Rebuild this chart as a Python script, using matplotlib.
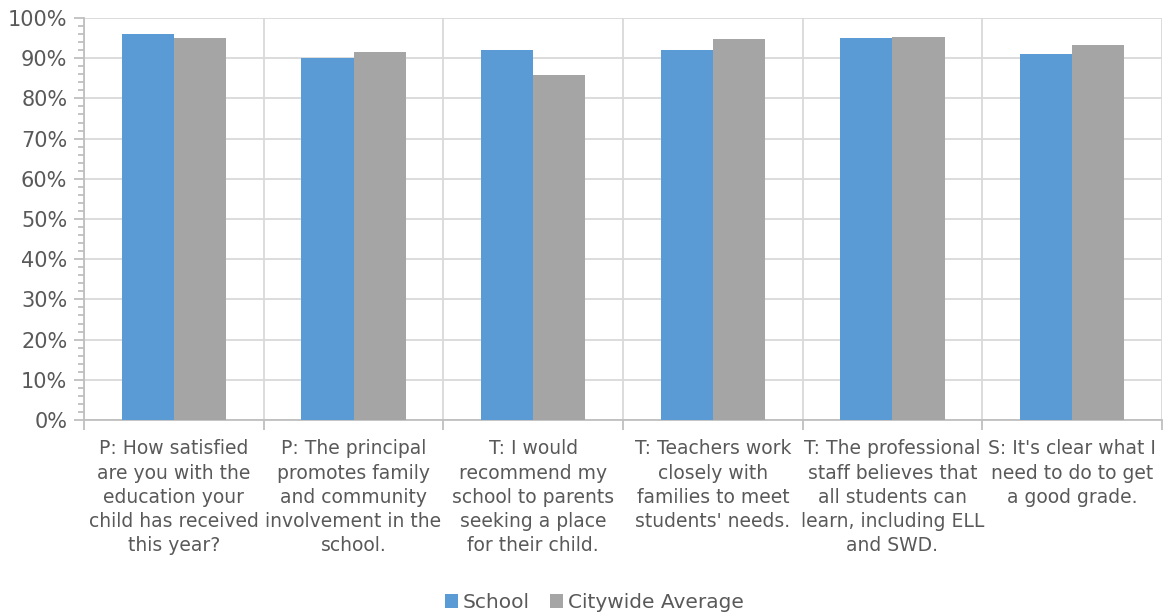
import matplotlib
matplotlib.use("Agg")
import matplotlib.pyplot as plt
from matplotlib.ticker import MultipleLocator, FuncFormatter
import numpy as np

categories = [
    "P: How satisfied\nare you with the\neducation your\nchild has received\nthis year?",
    "P: The principal\npromotes family\nand community\ninvolvement in the\nschool.",
    "T: I would\nrecommend my\nschool to parents\nseeking a place\nfor their child.",
    "T: Teachers work\nclosely with\nfamilies to meet\nstudents' needs.",
    "T: The professional\nstaff believes that\nall students can\nlearn, including ELL\nand SWD.",
    "S: It's clear what I\nneed to do to get\na good grade.",
]
school = [96.0, 90.0, 92.0, 92.0, 95.0, 91.1]
citywide = [95.0, 91.5, 85.9, 94.8, 95.3, 93.4]

blue = "#5B9BD5"
gray = "#A5A5A5"
text_col = "#595959"
grid_col = "#D9D9D9"
axis_col = "#BFBFBF"

plt.rcParams['font.family'] = ['DejaVu Sans']

fig = plt.figure(figsize=(11.63, 6.15), dpi=100)
ax = fig.add_axes([84/1163, (615-420)/615, (1162-84)/1163, (420-18)/615])

x = np.arange(len(categories))
w = 0.29
ax.bar(x - w/2, school, w, color=blue, label="School", zorder=3)
ax.bar(x + w/2, citywide, w, color=gray, label="Citywide Average", zorder=3)

ax.set_xlim(-0.5, len(categories) - 0.5)
ax.set_ylim(0, 100)

ax.yaxis.set_major_locator(MultipleLocator(10))
ax.yaxis.set_minor_locator(MultipleLocator(2))
ax.yaxis.set_major_formatter(FuncFormatter(lambda v, p: f"{v:.0f}%"))
ax.grid(axis='y', which='major', color=grid_col, lw=1.3, zorder=0)

ax.set_xticks(x)
ax.set_xticklabels(categories, linespacing=1.35)
ax.set_xticks(np.arange(len(categories) + 1) - 0.5, minor=True)
ax.grid(axis='x', which='minor', color=grid_col, lw=1.3, zorder=0)
ax.tick_params(axis='x', which='major', length=0, pad=14, labelsize=13.5, labelcolor=text_col)
ax.tick_params(axis='x', which='minor', length=7, color=axis_col, width=1.3)
ax.tick_params(axis='y', which='major', length=7, color=axis_col, width=1.3,
               labelsize=15, labelcolor=text_col, pad=5)
ax.tick_params(axis='y', which='minor', length=4, color=axis_col, width=1.3)

for s in ['top', 'right']:
    ax.spines[s].set_visible(False)
for s in ['left', 'bottom']:
    ax.spines[s].set_color(axis_col)
    ax.spines[s].set_linewidth(1.3)

fig.legend(loc='lower center', bbox_to_anchor=(0.511, -0.025), ncol=2, frameon=False,
           fontsize=14.5, labelcolor=text_col, handlelength=0.65, handleheight=0.65,
           handletextpad=0.25, columnspacing=1.0)

fig.savefig("out.png", dpi=100)
